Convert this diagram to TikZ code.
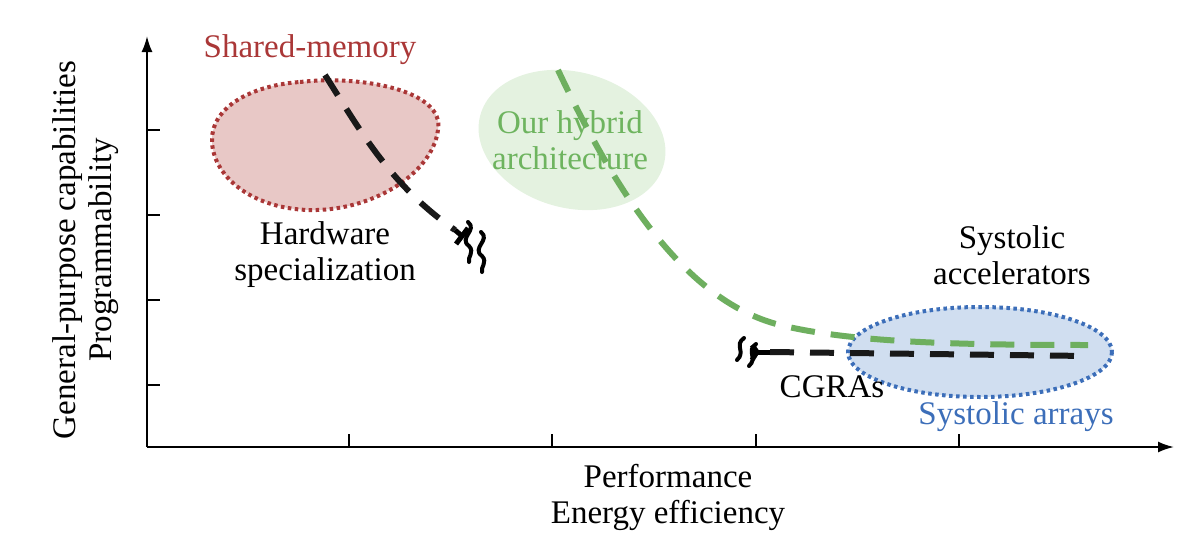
\documentclass[tikz,border=0pt]{standalone}
\usepackage{fontspec}
\setmainfont{Liberation Serif}
\usetikzlibrary{arrows.meta}
\begin{document}
\begin{tikzpicture}[x=1pt,y=-1pt,
  lab/.style={font=\fontsize{33}{36}\selectfont,align=center,inner sep=0pt},
  axis/.style={line width=2pt,-{Latex[length=16pt,width=11pt]}},
  blk/.style={line width=6pt,dash pattern=on 24pt off 16pt,color=black!90},
  grn/.style={line width=6pt,dash pattern=on 24pt off 16pt,color=grnl},
  sq/.style={line width=4pt,line cap=round},
  dots/.style={line width=4pt,dash pattern=on 3.5pt off 3.5pt}]
\definecolor{redd}{RGB}{170,55,55}
\definecolor{redf}{RGB}{232,200,198}
\definecolor{grnf}{RGB}{228,242,224}
\definecolor{grnl}{RGB}{110,175,95}
\definecolor{grnt}{RGB}{110,180,95}
\definecolor{blud}{RGB}{60,110,185}
\definecolor{bluf}{RGB}{208,222,240}
\useasboundingbox (0,0) rectangle (1200,554);
% blobs
\path[fill=grnf,rotate around={-15:(572,140)}] (572,140) ellipse [x radius=95, y radius=68];
\draw[redd,fill=redf,dots]
  (300,82) .. controls (360,75) and (445,90) .. (438,130)
  .. controls (432,175) and (370,212) .. (308,210)
  .. controls (250,208) and (212,175) .. (212,140)
  .. controls (212,105) and (255,85) .. (300,82) -- cycle;
\draw[blud,fill=bluf,dots] (980,352) ellipse [x radius=132, y radius=45];
% axes
\coordinate (o) at (147,447);
\coordinate (ytop) at (147,36);
\coordinate (xend) at (1174,447);
\draw[axis] (o) -- (ytop);
\draw[axis] (o) -- (xend);
\foreach \y in {130,215,300,385} \draw[line width=2pt] (147,\y) -- (160,\y);
\foreach \x in {349,552,756,959} \draw[line width=2pt] (\x,447) -- (\x,434);
% lines
\coordinate (b1) at (325,75);
\coordinate (b2) at (455,230);
\draw[blk] (b1) .. controls (360,130) and (390,185) .. (b2);
\draw[line width=5pt] (b2) -- (462,236);
\draw[line width=5pt] (456,244) -- (468,228);
\draw[sq] (468,222) .. controls (478,230) and (458,238) .. (469,246) .. controls (475,252) and (467,258) .. (469,262);
\draw[sq] (481,232) .. controls (491,240) and (471,248) .. (482,256) .. controls (488,262) and (480,268) .. (482,272);
\coordinate (c1) at (770,352);
\coordinate (c2) at (1088,356);
\draw[blk] (c1) -- (c2);
\draw[line width=5pt] (757,352) -- (c1);
\draw[line width=5pt] (752,345) -- (757,352) -- (752,360);
\draw[sq] (744,338) .. controls (734,345) and (746,352) .. (737,360);
\draw[sq] (756,344) .. controls (746,351) and (758,358) .. (749,366);
\coordinate (g1) at (558,70);
\coordinate (g2) at (1088,345);
\draw[grn] (g1) .. controls (610,180) and (680,300) .. (780,325)
  .. controls (850,342) and (950,345) .. (g2);
% labels
\node[lab,redd] (sm) at (310,50) {Shared-memory};
\node[lab] (hw) at (325,255) {Hardware\\specialization};
\node[lab,grnt] (hy) at (570,140) {Our hybrid\\architecture};
\node[lab] (sa) at (1012,255) {Systolic\\accelerators};
\node[lab] (cg) at (832,387) {CGRAs};
\node[lab,blud] (sy) at (1016,417) {Systolic arrays};
\node[lab] (xl) at (668,497) {Performance\\Energy efficiency};
\node[lab,rotate=90] (yl) at (86,250) {General-purpose capabilities\\Programmability};
\end{tikzpicture}
\end{document}
